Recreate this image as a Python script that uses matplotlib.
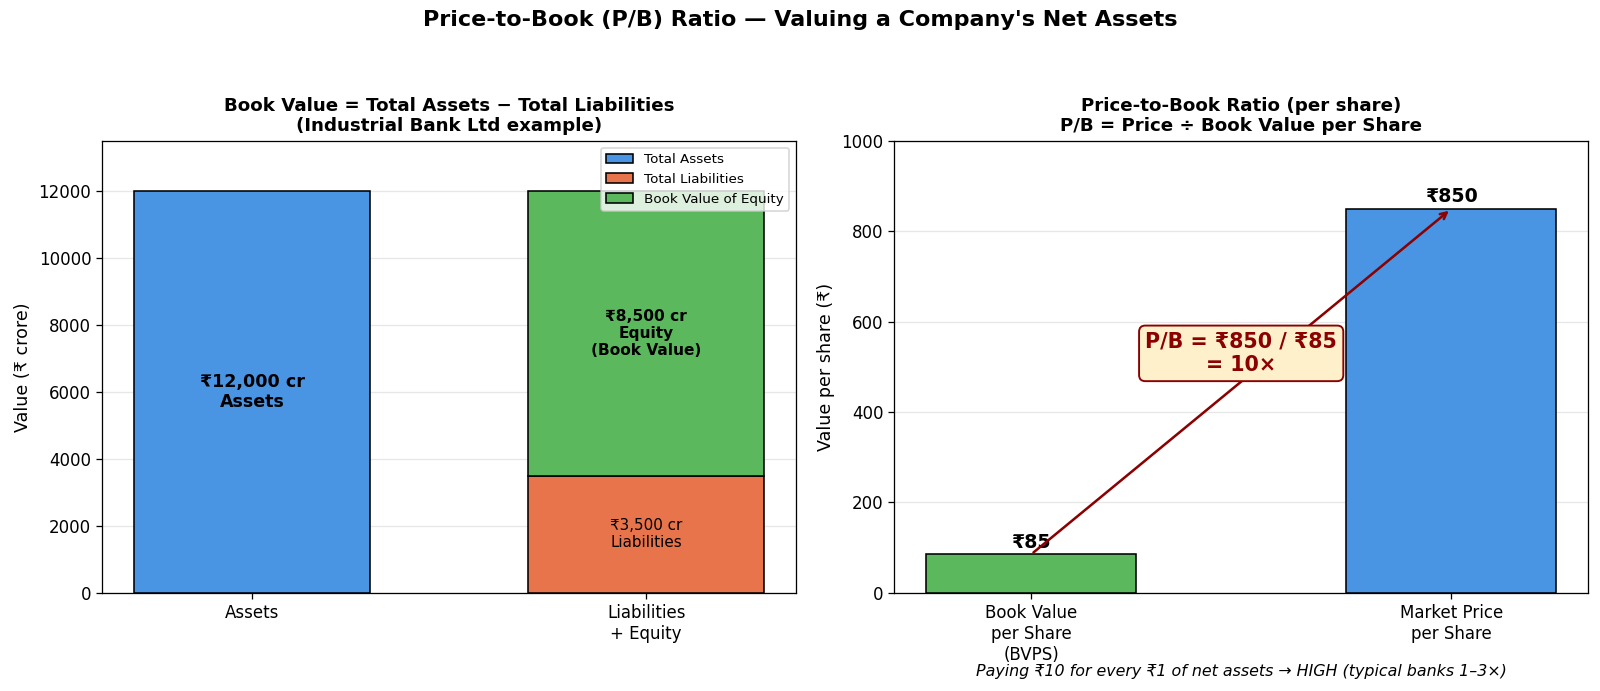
"""P/B ratio explainer: balance sheet stack and per-share comparison."""

import matplotlib

matplotlib.use("Agg")
import matplotlib.pyplot as plt

# balance sheet, ₹ crore
bs_categories = ["Assets", "Liabilities\n+ Equity"]
total_assets = 12000
total_liabilities = 3500
book_equity = 8500

# per share, ₹
ps_categories = ["Book Value\nper Share\n(BVPS)", "Market Price\nper Share"]
bvps = 85
market_price = 850

BLUE = "#4A95E3"
ORANGE = "#E8744C"
GREEN = "#5CB85C"

DPI = 800 / 7  # 14 in -> 1600 px


def main() -> None:
    fig = plt.figure(figsize=(14, 691 / DPI), dpi=DPI)
    ax1 = fig.add_axes([0.064, 0.142, 0.4335, 0.654])
    ax2 = fig.add_axes([0.559, 0.142, 0.4335, 0.654])

    # --- left: book value build-up
    ax1.bar(0, total_assets, width=0.6, color=BLUE, edgecolor="black",
            linewidth=1.0, label="Total Assets", zorder=3)
    ax1.bar(1, total_liabilities, width=0.6, color=ORANGE, edgecolor="black",
            linewidth=1.0, label="Total Liabilities", zorder=3)
    ax1.bar(1, book_equity, bottom=total_liabilities, width=0.6, color=GREEN,
            edgecolor="black", linewidth=1.0, label="Book Value of Equity", zorder=3)

    ax1.text(0, total_assets / 2, f"₹{total_assets:,} cr\nAssets", ha="center",
             va="center", fontsize=11, fontweight="bold", zorder=4)
    ax1.text(1, total_liabilities + book_equity / 2,
             f"₹{book_equity:,} cr\nEquity\n(Book Value)", ha="center", va="center",
             fontsize=9.7, fontweight="bold", zorder=4)
    ax1.text(1, total_liabilities / 2, f"₹{total_liabilities:,} cr\nLiabilities",
             ha="center", va="center", fontsize=9.5, zorder=4)

    ax1.set_xticks([0, 1])
    ax1.set_xticklabels(bs_categories, fontsize=10.5)
    ax1.set_ylim(0, total_assets * 1.125)
    ax1.set_ylabel("Value (₹ crore)", fontsize=11)
    ax1.tick_params(axis="y", labelsize=10.5)
    ax1.set_title("Book Value = Total Assets − Total Liabilities\n"
                  "(Industrial Bank Ltd example)", fontsize=11.5, fontweight="bold")
    ax1.grid(axis="y", alpha=0.3, zorder=0)
    ax1.legend(loc="upper right", fontsize=8.5)

    # --- right: price vs book per share
    ax2.bar(0, bvps, width=0.5, color=GREEN, edgecolor="black", linewidth=1.0, zorder=3)
    ax2.bar(1, market_price, width=0.5, color=BLUE, edgecolor="black", linewidth=1.0,
            zorder=3)
    ax2.text(0, bvps + 5, f"₹{bvps}", ha="center", va="bottom", fontsize=12,
             fontweight="bold", zorder=4)
    ax2.text(1, market_price + 5, f"₹{market_price}", ha="center", va="bottom",
             fontsize=12, fontweight="bold", zorder=4)

    ax2.annotate("", xy=(1, market_price), xytext=(0, bvps),
                 arrowprops=dict(arrowstyle="->", color="darkred", lw=1.6), zorder=4)
    ax2.text(0.5, 530, f"P/B = ₹{market_price} / ₹{bvps}\n= {market_price // bvps}×",
             ha="center", va="center", fontsize=13, fontweight="bold", color="darkred",
             bbox=dict(boxstyle="round,pad=0.3", facecolor="#FFF0CC",
                       edgecolor="darkred", linewidth=1.2), zorder=5)

    ax2.set_xticks([0, 1])
    ax2.set_xticklabels(ps_categories, fontsize=10.5)
    ax2.set_ylim(0, 1000)
    ax2.set_ylabel("Value per share (₹)", fontsize=11)
    ax2.tick_params(axis="y", labelsize=10.5)
    ax2.set_title("Price-to-Book Ratio (per share)\n"
                  "P/B = Price ÷ Book Value per Share", fontsize=11.5, fontweight="bold")
    ax2.grid(axis="y", alpha=0.3, zorder=0)
    ax2.text(0.5, -0.175,
             "Paying ₹10 for every ₹1 of net assets → HIGH (typical banks 1–3×)",
             transform=ax2.transAxes, ha="center", va="center", fontsize=10,
             style="italic")

    fig.suptitle("Price-to-Book (P/B) Ratio — Valuing a Company's Net Assets",
                 fontsize=14, fontweight="bold", y=0.985)
    fig.savefig("out.png", dpi=DPI)
    plt.close(fig)


if __name__ == "__main__":
    main()
